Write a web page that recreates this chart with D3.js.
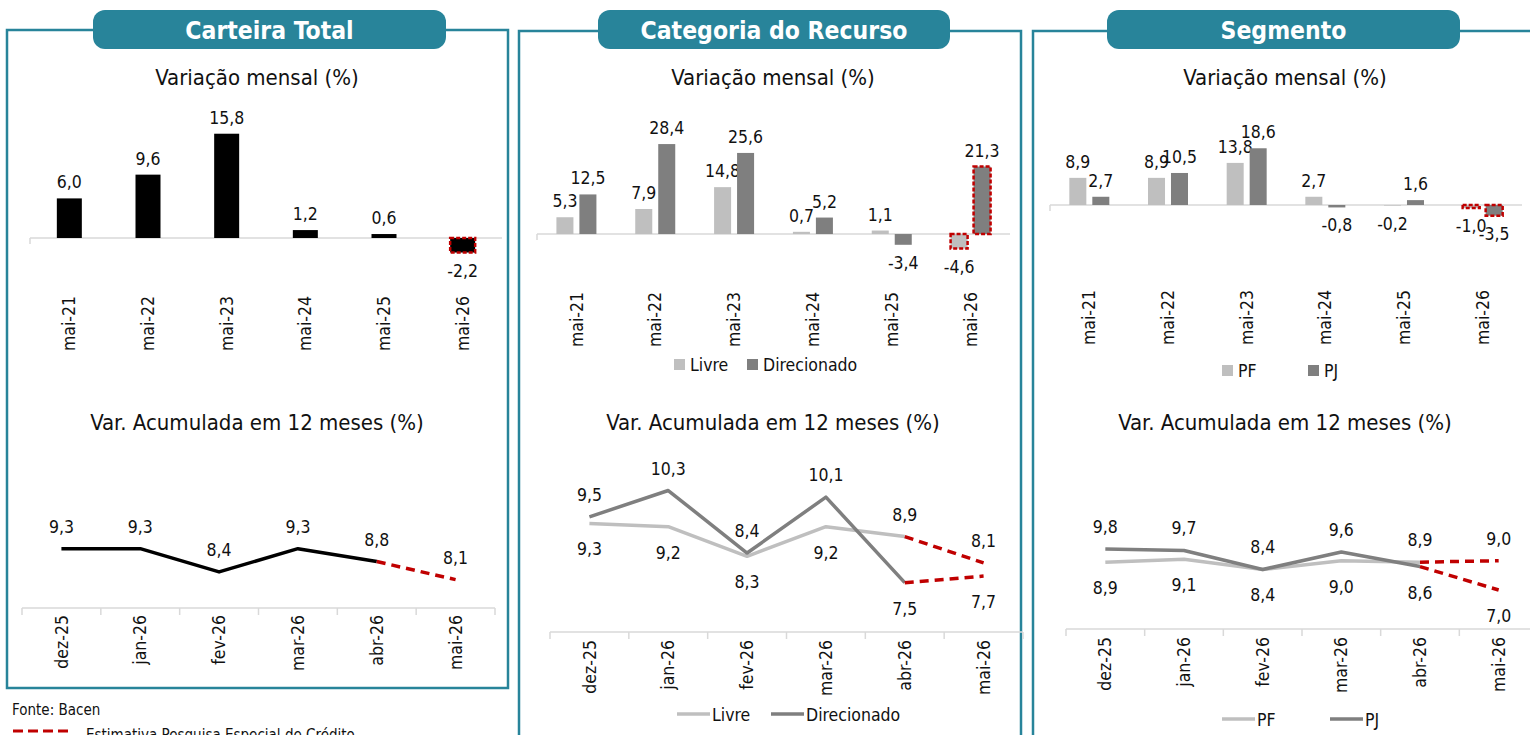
<!DOCTYPE html>
<html>
<head>
<meta charset="utf-8">
<script src="https://cdn.jsdelivr.net/npm/d3@7"></script>
<style>
  body { margin: 0; background: #fff; }
  svg { display: block; font-family: 'DejaVu Sans Condensed', 'DejaVu Sans', sans-serif; font-stretch: condensed; }
</style>
</head>
<body>
<svg width="1530" height="735"></svg>
<script>
// dados
var barCats = ['mai-21', 'mai-22', 'mai-23', 'mai-24', 'mai-25', 'mai-26'];
var lineCats = ['dez-25', 'jan-26', 'fev-26', 'mar-26', 'abr-26', 'mai-26'];

var totalMensal = [6.0, 9.6, 15.8, 1.2, 0.6, -2.2];
var totalAcum = [9.3, 9.3, 8.4, 9.3, 8.8, 8.1];

var livreMensal = [5.3, 7.9, 14.8, 0.7, 1.1, -4.6];
var direcMensal = [12.5, 28.4, 25.6, 5.2, -3.4, 21.3];
var livreAcum = [9.3, 9.2, 8.3, 9.2, 8.9, 8.1];
var direcAcum = [9.5, 10.3, 8.4, 10.1, 7.5, 7.7];

var pfMensal = [8.9, 8.9, 13.8, 2.7, -0.2, -1.0];
var pjMensal = [2.7, 10.5, 18.6, -0.8, 1.6, -3.5];
var pfAcum = [8.9, 9.1, 8.4, 9.0, 8.9, 9.0];
var pjAcum = [9.8, 9.7, 8.4, 9.6, 8.6, 7.0];

var teal = '#28849a', red = '#c00000', light = '#bfbfbf', dark = '#7f7f7f', axisCol = '#d9d9d9';
var estIdx = 5; // último ponto = estimativa

var fmt = function(v) { return d3.format('.1f')(v).replace('.', ',').replace('\u2212', '-'); };

var svg = d3.select('svg');

// molduras e abas
var panels = [
  {x: 7, y: 30, w: 501, h: 658, tx: 93, tw: 353, title: 'Carteira Total'},
  {x: 519, y: 31, w: 502, h: 740, tx: 598, tw: 352, title: 'Categoria do Recurso'},
  {x: 1033, y: 31, w: 520, h: 740, tx: 1107, tw: 353, title: 'Segmento'}
];
panels.forEach(function(p) {
  svg.append('rect').attr('x', p.x).attr('y', p.y).attr('width', p.w).attr('height', p.h)
    .attr('fill', 'none').attr('stroke', teal).attr('stroke-width', 2.5);
  svg.append('rect').attr('x', p.tx).attr('y', 10).attr('width', p.tw).attr('height', 39)
    .attr('rx', 12).attr('fill', teal);
  svg.append('text').attr('x', p.tx + p.tw / 2).attr('y', 38.5)
    .attr('text-anchor', 'middle').attr('fill', '#fff')
    .style('font-size', '24.5px').style('font-weight', 'bold').text(p.title);
});

function barChart(cfg) {
  var g = svg.append('g');
  var x = d3.scaleBand().domain(barCats).range([cfg.x0, cfg.x1]);
  var y = d3.scaleLinear().domain(cfg.domain).range(cfg.range);
  var n = cfg.series.length;
  var inner = d3.scaleBand().domain(d3.range(n))
    .range(n === 1 ? [-12.5, 12.5] : [-20, 20]).paddingInner(n === 1 ? 0 : 0.26);

  g.append('text').attr('x', cfg.cx).attr('y', 85).attr('text-anchor', 'middle')
    .style('font-size', '22px').attr('fill', '#111').text('Variação mensal (%)');

  // eixo
  g.append('line').attr('x1', cfg.x0).attr('x2', cfg.x1).attr('y1', y(0)).attr('y2', y(0))
    .attr('stroke', axisCol).attr('stroke-width', 1.5);
  g.append('line').attr('x1', cfg.x0).attr('x2', cfg.x0).attr('y1', y(0)).attr('y2', y(0) + 6)
    .attr('stroke', axisCol).attr('stroke-width', 1.5);

  cfg.series.forEach(function(s, si) {
    var sel = g.append('g').selectAll('rect').data(s.values).enter();
    sel.append('rect')
      .attr('x', function(d, i) { return x(barCats[i]) + x.bandwidth() / 2 + inner(si); })
      .attr('y', function(d) { return Math.min(y(d), y(0)); })
      .attr('width', inner.bandwidth())
      .attr('height', function(d) { return Math.abs(y(d) - y(0)); })
      .attr('fill', s.color)
      .attr('stroke', function(d, i) { return i === estIdx ? red : 'none'; })
      .attr('stroke-width', 2.5)
      .attr('stroke-dasharray', '4,2');
    sel.append('text')
      .attr('x', function(d, i) { return x(barCats[i]) + x.bandwidth() / 2 + inner(si) + inner.bandwidth() / 2; })
      .attr('y', function(d) { return d >= 0 ? y(d) - 10 : y(d) + 24; })
      .attr('text-anchor', 'middle').style('font-size', '17.5px').attr('fill', '#111')
      .text(function(d) { return fmt(d); });
  });

  g.selectAll('.cat').data(barCats).enter().append('text')
    .attr('transform', function(d) { return 'translate(' + (x(d) + x.bandwidth() / 2) + ',' + cfg.labTop + ') rotate(-90)'; })
    .attr('text-anchor', 'end').attr('dy', '0.35em')
    .style('font-size', '17.5px').attr('fill', '#111').text(function(d) { return d; });

  if (cfg.legend) {
    cfg.legend.forEach(function(l, i) {
      g.append('rect').attr('x', l.x).attr('y', cfg.legY - 6).attr('width', 11).attr('height', 11)
        .attr('fill', cfg.series[i].color);
      g.append('text').attr('x', l.x + 16).attr('y', cfg.legY + 6)
        .style('font-size', '17.5px').attr('fill', '#111').text(l.name);
    });
  }
}

function lineChart(cfg) {
  var g = svg.append('g');
  var x = d3.scaleBand().domain(lineCats).range([cfg.x0, cfg.x1]);
  var y = d3.scaleLinear().domain(cfg.domain).range(cfg.range);
  var cx = function(i) { return x(lineCats[i]) + x.bandwidth() / 2; };

  g.append('text').attr('x', cfg.cx).attr('y', 430).attr('text-anchor', 'middle')
    .style('font-size', '22px').attr('fill', '#111').text('Var. Acumulada em 12 meses (%)');

  g.append('line').attr('x1', cfg.x0).attr('x2', cfg.x1).attr('y1', cfg.axisY).attr('y2', cfg.axisY)
    .attr('stroke', axisCol).attr('stroke-width', 1.5);
  g.selectAll('.tk').data(d3.range(lineCats.length + 1)).enter().append('line')
    .attr('x1', function(i) { return cfg.x0 + i * x.step(); })
    .attr('x2', function(i) { return cfg.x0 + i * x.step(); })
    .attr('y1', cfg.axisY).attr('y2', cfg.axisY + 7)
    .attr('stroke', axisCol).attr('stroke-width', 1.5);

  var line = d3.line().x(function(d) { return cx(d.i); }).y(function(d) { return y(d.v); });

  cfg.series.forEach(function(s, si) {
    var pts = s.values.map(function(v, i) { return {v: v, i: i}; });
    g.append('path').datum(pts.slice(0, estIdx))
      .attr('d', line).attr('fill', 'none').attr('stroke', s.color).attr('stroke-width', 3.5)
      .attr('stroke-linejoin', 'round');
    g.append('path').datum(pts.slice(estIdx - 1))
      .attr('d', line).attr('fill', 'none').attr('stroke', red).attr('stroke-width', 3.5)
      .attr('stroke-dasharray', '9,6');
  });

  cfg.series.forEach(function(s, si) {
    var other = cfg.series.length > 1 ? cfg.series[1 - si].values : null;
    g.selectAll('.lab' + si).data(s.values).enter().append('text')
      .attr('x', function(d, i) { return cx(i); })
      .attr('y', function(d, i) {
        var above = !other || d > other[i] || (d === other[i] && si === 1);
        return above ? y(d) - 16 : y(d) + 32;
      })
      .attr('text-anchor', 'middle').style('font-size', '17.5px').attr('fill', '#111')
      .text(function(d) { return fmt(d); });
  });

  g.selectAll('.cat').data(lineCats).enter().append('text')
    .attr('transform', function(d) { return 'translate(' + (x(d) + x.bandwidth() / 2) + ',' + cfg.labTop + ') rotate(-90)'; })
    .attr('text-anchor', 'end').attr('dy', '0.35em')
    .style('font-size', '17.5px').attr('fill', '#111').text(function(d) { return d; });

  if (cfg.legend) {
    cfg.legend.forEach(function(l, i) {
      g.append('line').attr('x1', l.x).attr('x2', l.x + 33).attr('y1', cfg.legY).attr('y2', cfg.legY)
        .attr('stroke', cfg.series[i].color).attr('stroke-width', 3.5);
      g.append('text').attr('x', l.x + 35).attr('y', cfg.legY + 6.5)
        .style('font-size', '17.5px').attr('fill', '#111').text(l.name);
    });
  }
}

// Carteira Total
barChart({
  x0: 30, x1: 502, cx: 257, domain: [-5, 20], range: [271, 106], labTop: 296,
  series: [{values: totalMensal, color: '#000'}]
});
lineChart({
  x0: 22, x1: 495, cx: 257, axisY: 608, domain: [7, 10], range: [608, 530.6], labTop: 615,
  series: [{values: totalAcum, color: '#000'}]
});

// Categoria do Recurso
barChart({
  x0: 537, x1: 1010, cx: 773, domain: [-10, 30], range: [265.7, 139], labTop: 292,
  series: [{values: livreMensal, color: light}, {values: direcMensal, color: dark}],
  legY: 365, legend: [{x: 674, name: 'Livre'}, {x: 747, name: 'Direcionado'}]
});
lineChart({
  x0: 550, x1: 1023, cx: 773, axisY: 632, domain: [6, 12], range: [632, 434.6], labTop: 640,
  series: [{values: livreAcum, color: light}, {values: direcAcum, color: dark}],
  legY: 714, legend: [{x: 677, name: 'Livre'}, {x: 771, name: 'Direcionado'}]
});

// Segmento
barChart({
  x0: 1050, x1: 1522, cx: 1285, domain: [-5, 20], range: [220.25, 144], labTop: 290,
  series: [{values: pfMensal, color: light}, {values: pjMensal, color: dark}],
  legY: 371, legend: [{x: 1222, name: 'PF'}, {x: 1308, name: 'PJ'}]
});
lineChart({
  x0: 1066, x1: 1538, cx: 1285, axisY: 629, domain: [4, 12], range: [633.9, 516.8], labTop: 637,
  series: [{values: pfAcum, color: light}, {values: pjAcum, color: dark}],
  legY: 719, legend: [{x: 1222, name: 'PF'}, {x: 1330, name: 'PJ'}]
});

// rodapé
svg.append('text').attr('x', 12).attr('y', 715).style('font-size', '15px').attr('fill', '#111').text('Fonte: Bacen');
svg.append('line').attr('x1', 13).attr('x2', 70).attr('y1', 731).attr('y2', 731)
  .attr('stroke', red).attr('stroke-width', 3).attr('stroke-dasharray', '10,5');
svg.append('text').attr('x', 86).attr('y', 740).style('font-size', '15px').attr('fill', '#111')
  .text('Estimativa Pesquisa Especial de Crédito');
</script>
</body>
</html>
